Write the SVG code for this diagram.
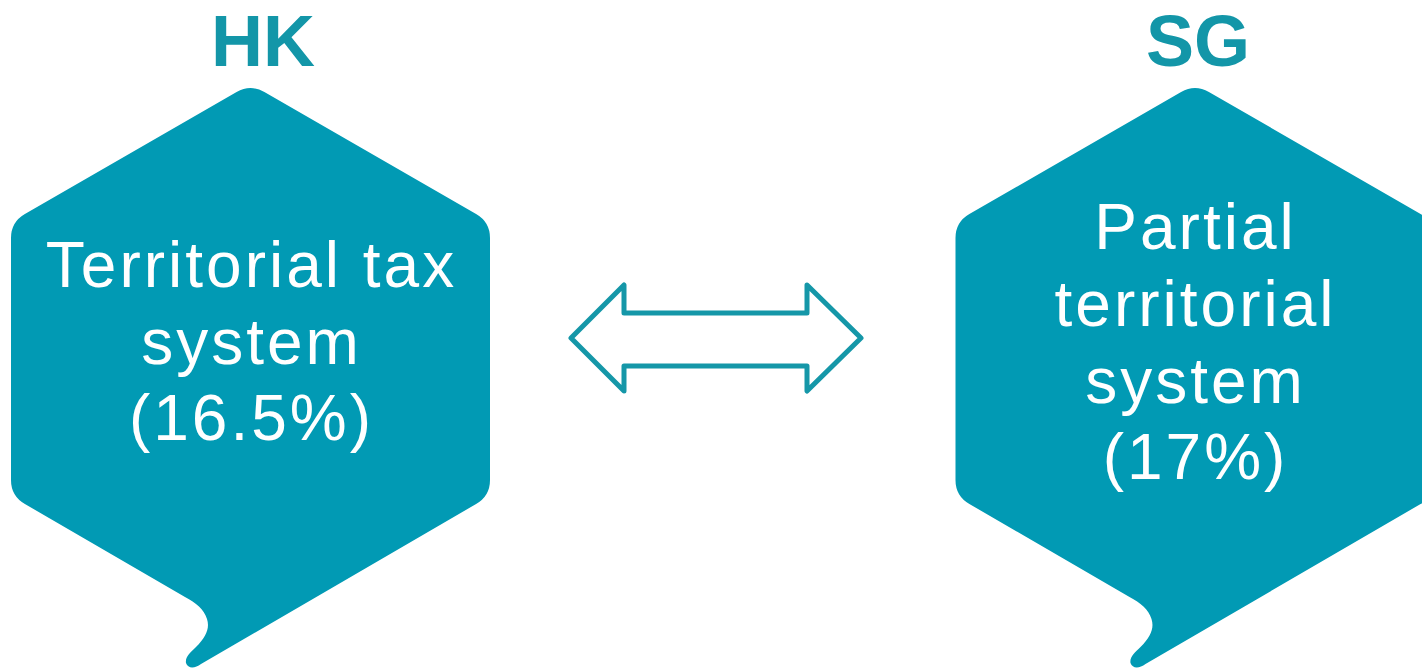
<svg xmlns="http://www.w3.org/2000/svg" width="1422" height="670" viewBox="0 0 1422 670">
<style>
.box{fill:#019ab4;}
.title{font-family:"Liberation Sans",Arial,sans-serif;font-weight:bold;font-size:72px;fill:#1396a8;text-anchor:middle;}
.body{font-family:"Liberation Sans",Arial,sans-serif;font-size:64px;fill:#ffffff;text-anchor:middle;letter-spacing:3px;}
.arrow{fill:#ffffff;stroke:#1597a8;stroke-width:5;stroke-linejoin:round;}
</style>
<defs>
<path id="bubble" d="M236.6,92 Q250.5,84 264.4,92 L476.1,214 Q490,222 490,238 L490,480 Q490,496 476.1,504 L201,664 C195,668.5 188,669 186,663 C185,657 190,653 196,647 C206,637 210,628 207,619 C204,609 196,603 185,597 L24.9,504 Q11,496 11,480 L11,238 Q11,222 24.9,214 Z"/>
</defs>
<g id="node-hk">
<use href="#bubble" class="box"/>
<text class="title" x="263" y="66">HK</text>
<text class="body" x="251.5" y="287">Territorial tax</text>
<text class="body" x="251.5" y="364">system</text>
<text class="body" x="251.5" y="440">(16.5%)</text>
</g>
<g id="node-sg">
<use href="#bubble" class="box" transform="translate(944.5,0)"/>
<text class="title" x="1198" y="66">SG</text>
<text class="body" x="1195.5" y="249">Partial</text>
<text class="body" x="1195.5" y="326">territorial</text>
<text class="body" x="1195.5" y="403">system</text>
<text class="body" x="1195.5" y="479">(17%)</text>
</g>
<g id="connectors">
<path class="arrow" d="M571,338 L624,285 L624,313 L807,313 L807,285 L861,338 L807,391 L807,366 L624,366 L624,391 Z"/>
</g>
</svg>
